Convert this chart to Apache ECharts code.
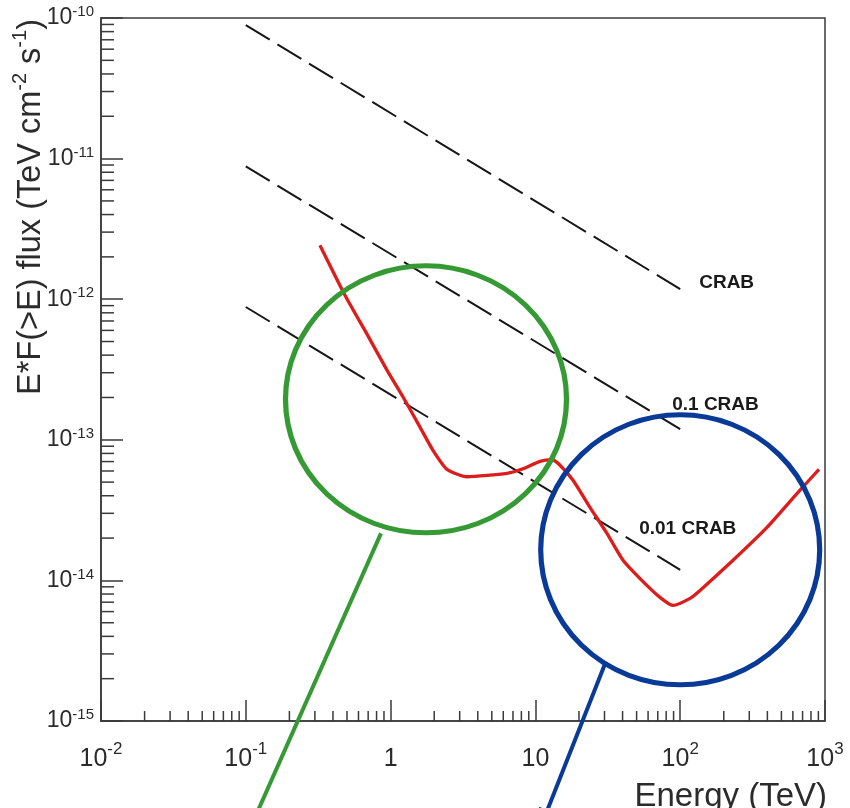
<!DOCTYPE html>
<html>
<head>
<meta charset="utf-8">
<script src="https://cdn.jsdelivr.net/npm/echarts@6/dist/echarts.min.js"></script>
<style>
  html, body { margin: 0; padding: 0; background: #ffffff; }
  #chart { width: 850px; height: 808px; }
</style>
</head>
<body>
<div id="chart"></div>
<script>
const FONT = '"Liberation Sans", Arial, Helvetica, sans-serif';
const AXIS_COLOR = '#3a3a3a';
const TEXT_COLOR = '#2b2b2b';

// Decades (powers of ten) spanned by each axis
const energyDecades = [-2, -1, 0, 1, 2, 3];
const fluxDecades = [-15, -14, -13, -12, -11, -10];

// Sensitivity curve: energy (TeV) and E*F(>E) (TeV cm^-2 s^-1)
const sensEnergy = [0.325, 0.484, 0.687, 0.944, 1.224, 1.596, 1.962, 2.452, 3.37, 6.37,
  8.21, 10.76, 13.02, 14.79, 18.18, 23.8, 31.2, 40.3, 52.8, 72.5,
  89.2, 116.9, 137, 231.6, 397.5, 671.9, 909];
const sensFlux = [2.42e-12, 1.067e-12, 5.64e-13, 3.13e-13, 2.0e-13, 1.23e-13, 8.41e-14, 6.16e-14, 5.46e-14, 5.78e-14,
  6.22e-14, 7.03e-14, 7.21e-14, 6.59e-14, 5.15e-14, 3.31e-14, 2.16e-14, 1.39e-14, 1.03e-14, 7.57e-15,
  6.64e-15, 7.45e-15, 8.49e-15, 1.39e-14, 2.38e-14, 4.38e-14, 6.16e-14];

// Crab reference spectra (full, 10 %, 1 %)
const crabEnergy = [0.1, 100];
const crabFlux = [8.9e-11, 1.18e-12];
const crab01Flux = [8.8e-12, 1.19e-13];
const crab001Flux = [8.8e-13, 1.19e-14];
const crabLabels = ['CRAB', '0.1 CRAB', '0.01 CRAB'];

// Highlight rings, centre given as [energy, flux]; arrows as [start, tip]
const greenRingCenter = [1.756, 1.94e-13];
const blueRingCenter = [100, 1.65e-14];
const greenArrow = [[0.858, 2.16e-14], [0.107, 1.72e-16]];
const blueArrow = [[30.7, 2.65e-15], [10.9, 1.77e-16]];

const GREEN = '#359a33';
const BLUE = '#0a3a98';

// Minor tick positions (2..9 within each decade)
const minorX = [];
energyDecades.slice(0, -1).forEach(e => {
  for (let k = 2; k <= 9; k++) minorX.push([k * Math.pow(10, e), Math.pow(10, fluxDecades[0])]);
});
const minorY = [];
fluxDecades.slice(0, -1).forEach(e => {
  for (let k = 2; k <= 9; k++) minorY.push([Math.pow(10, energyDecades[0]), k * Math.pow(10, e)]);
});

function pairs(xs, ys) { return xs.map((x, i) => [x, ys[i]]); }

function expOf(v) { return Math.round(Math.log10(v)); }

const chart = echarts.init(document.getElementById('chart'), null, { renderer: 'canvas' });

function crabSeries(flux, label, offset) {
  return {
    type: 'line',
    data: pairs(crabEnergy, flux),
    showSymbol: false,
    symbol: 'none',
    silent: true,
    lineStyle: { color: '#161616', width: 2, type: [28, 9] },
    endLabel: {
      show: true,
      formatter: label,
      distance: 0,
      offset: offset,
      align: 'left',
      verticalAlign: 'middle',
      fontFamily: FONT,
      fontSize: 19,
      fontWeight: 'bold',
      color: '#1a1a1a'
    },
    z: 4
  };
}

const option = {
  animation: false,
  backgroundColor: '#ffffff',
  grid: {
    left: 101, right: 25, top: 18, bottom: 87,
    show: true, borderColor: AXIS_COLOR, borderWidth: 1.5, backgroundColor: 'transparent'
  },
  xAxis: {
    type: 'log', logBase: 10,
    min: Math.pow(10, energyDecades[0]),
    max: Math.pow(10, energyDecades[energyDecades.length - 1]),
    splitNumber: 5,
    splitLine: { show: false },
    axisLine: { lineStyle: { color: AXIS_COLOR, width: 1.5 } },
    axisTick: { inside: true, length: 21, lineStyle: { color: AXIS_COLOR, width: 1.5 } },
    axisLabel: {
      margin: 20,
      formatter: v => {
        const e = expOf(v);
        if (e === 0) return '{b|1}';
        if (e === 1) return '{b|10}';
        return '{b|10}{s|' + e + '}';
      },
      rich: {
        b: { fontFamily: FONT, fontSize: 25, lineHeight: 36, color: TEXT_COLOR },
        s: { fontFamily: FONT, fontSize: 17, lineHeight: 17, verticalAlign: 'top', color: TEXT_COLOR }
      }
    }
  },
  yAxis: {
    type: 'log', logBase: 10,
    min: Math.pow(10, fluxDecades[0]),
    max: Math.pow(10, fluxDecades[fluxDecades.length - 1]),
    splitNumber: 5,
    splitLine: { show: false },
    axisLine: { lineStyle: { color: AXIS_COLOR, width: 1.5 } },
    axisTick: { inside: true, length: 22, lineStyle: { color: AXIS_COLOR, width: 1.5 } },
    axisLabel: {
      margin: 7,
      formatter: v => '{b|10}{s|' + expOf(v) + '}',
      rich: {
        b: { fontFamily: FONT, fontSize: 23, lineHeight: 27, color: TEXT_COLOR },
        s: { fontFamily: FONT, fontSize: 15, lineHeight: 15, verticalAlign: 'top', color: TEXT_COLOR }
      }
    }
  },
  series: [
    {
      type: 'custom',
      silent: true,
      data: minorX,
      z: 3,
      renderItem: (params, api) => {
        const p = api.coord([api.value(0), api.value(1)]);
        return { type: 'line', shape: { x1: p[0], y1: p[1], x2: p[0], y2: p[1] - 10 },
          style: { stroke: AXIS_COLOR, lineWidth: 1.5 } };
      }
    },
    {
      type: 'custom',
      silent: true,
      data: minorY,
      z: 3,
      renderItem: (params, api) => {
        const p = api.coord([api.value(0), api.value(1)]);
        return { type: 'line', shape: { x1: p[0], y1: p[1], x2: p[0] + 13, y2: p[1] },
          style: { stroke: AXIS_COLOR, lineWidth: 1.5 } };
      }
    },
    crabSeries(crabFlux, crabLabels[0], [19, -6]),
    crabSeries(crab01Flux, crabLabels[1], [-8, -24]),
    crabSeries(crab001Flux, crabLabels[2], [-41, -41]),
    {
      type: 'line',
      data: pairs(sensEnergy, sensFlux),
      showSymbol: false,
      symbol: 'none',
      silent: true,
      clip: false,
      smooth: 0.2,
      lineStyle: { color: '#dd1c1c', width: 3.3 },
      z: 5
    }
  ]
};

chart.setOption(option);

// Axis titles and highlight annotations
function toPx(pt) { return chart.convertToPixel({ gridIndex: 0 }, pt); }

function ring(center, rx, ry, color) {
  const c = toPx(center);
  return {
    type: 'circle', x: c[0], y: c[1], scaleX: rx / ry,
    shape: { cx: 0, cy: 0, r: ry },
    style: { fill: 'none', stroke: color, lineWidth: 5, strokeNoScale: true },
    z: 100, silent: true
  };
}

function arrow(seg, color) {
  const a = toPx(seg[0]);
  const b = toPx(seg[1]);
  const dx = b[0] - a[0], dy = b[1] - a[1];
  const len = Math.sqrt(dx * dx + dy * dy);
  const ux = dx / len, uy = dy / len;
  const hl = 18, hw = 9;
  const bx = b[0] - ux * hl, by = b[1] - uy * hl;
  return [
    { type: 'line', shape: { x1: a[0], y1: a[1], x2: bx + ux * 4, y2: by + uy * 4 },
      style: { stroke: color, lineWidth: 4 }, z: 100, silent: true },
    { type: 'polygon', shape: { points: [[b[0], b[1]], [bx - uy * hw, by + ux * hw], [bx + uy * hw, by - ux * hw]] },
      style: { fill: color }, z: 100, silent: true }
  ];
}

const graphics = [
  {
    type: 'text', x: 31, y: 207, rotation: Math.PI / 2, silent: true,
    style: {
      text: '{t|E*F(>E) flux (TeV cm}{s|-2}{t| s}{s|-1}{t|)}',
      align: 'center', verticalAlign: 'middle',
      rich: {
        t: { fontFamily: FONT, fontSize: 32.5, lineHeight: 42, fill: TEXT_COLOR },
        s: { fontFamily: FONT, fontSize: 20, lineHeight: 20, verticalAlign: 'top', fill: TEXT_COLOR }
      }
    }
  },
  {
    type: 'text', x: 827, y: 813, silent: true,
    style: {
      text: 'Energy (TeV)', align: 'right', verticalAlign: 'bottom',
      font: '33px ' + FONT, fill: TEXT_COLOR
    }
  },
  ring(greenRingCenter, 140.5, 133.5, GREEN),
  ring(blueRingCenter, 139.5, 135, BLUE)
].concat(arrow(greenArrow, GREEN), arrow(blueArrow, BLUE));

chart.setOption({ graphic: graphics });
</script>
</body>
</html>
